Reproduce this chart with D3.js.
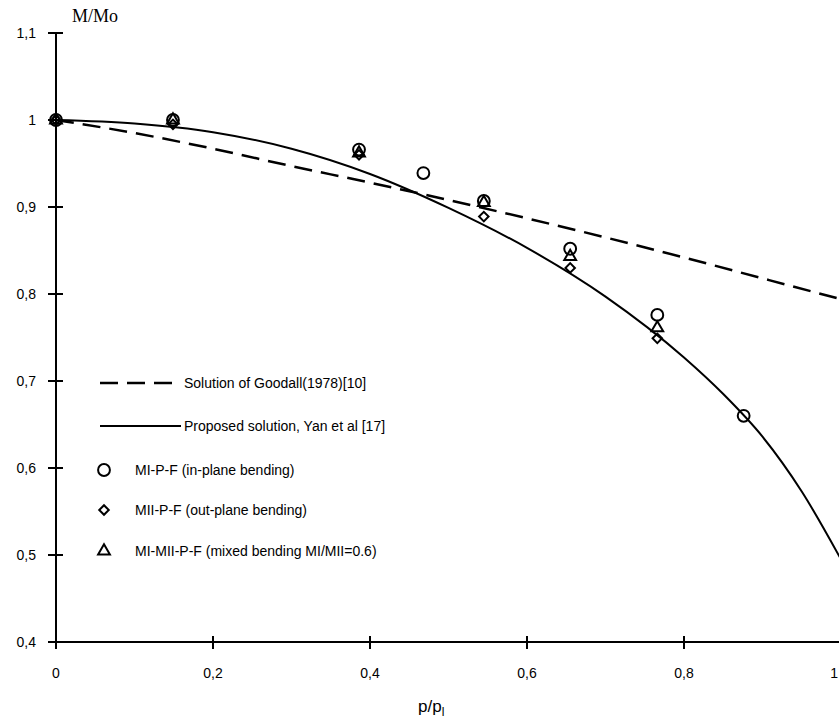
<!DOCTYPE html>
<html>
<head>
<meta charset="utf-8">
<script src="https://cdn.jsdelivr.net/npm/d3@7"></script>
<style>
  body { margin: 0; background: #fff; }
  svg { display: block; }
</style>
</head>
<body>
<div id="graph"></div>
<script>
var w = 839;
var h = 727;

// data
var xTicks = [0, 0.2, 0.4, 0.6, 0.8, 1];
var yTicks = [0.4, 0.5, 0.6, 0.7, 0.8, 0.9, 1, 1.1];

var goodallP = [0, 0.1, 0.2, 0.3, 0.4, 0.5, 0.6, 0.7, 0.8, 0.9, 1.0];
var goodallM = [1.0, 0.985, 0.967, 0.947, 0.928, 0.908, 0.887, 0.865, 0.842, 0.818, 0.794];

var yanP = [0, 0.1, 0.2, 0.3, 0.4, 0.5, 0.6, 0.7, 0.8, 0.85, 0.9, 0.95, 1.0];
var yanM = [1.0, 0.996, 0.986, 0.967, 0.938, 0.899, 0.853, 0.797, 0.727, 0.685, 0.636, 0.573, 0.495];

var inPlaneP = [0, 0.149, 0.386, 0.468, 0.545, 0.655, 0.766, 0.876];
var inPlaneM = [1.0, 1.0, 0.966, 0.939, 0.907, 0.852, 0.776, 0.66];

var outPlaneP = [0, 0.149, 0.386, 0.545, 0.655, 0.766];
var outPlaneM = [1.0, 0.995, 0.96, 0.889, 0.83, 0.749];

var mixedP = [0, 0.149, 0.386, 0.545, 0.655, 0.766];
var mixedM = [1.0, 1.0, 0.962, 0.905, 0.843, 0.761];

var x = d3.scaleLinear().domain([0, 1]).range([56, 841]);
var y = d3.scaleLinear().domain([0.4, 1.1]).range([642, 33]);

var svg = d3.select("#graph")
            .append("svg")
            .attr("width", w)
            .attr("height", h);

var fmt = function(d) { return String(d).replace(".", ","); };

// axes
var yAxis = svg.append("g").attr("transform", "translate(56,0)");
yAxis.append("line")
  .attr("y1", y(1.1)).attr("y2", y(0.4))
  .attr("stroke", "#000").attr("stroke-width", 2);
yAxis.selectAll("line.tick")
  .data(yTicks)
  .enter()
  .append("line")
    .attr("class", "tick")
    .attr("x1", -8).attr("x2", 7)
    .attr("y1", function(d) { return y(d); })
    .attr("y2", function(d) { return y(d); })
    .attr("stroke", "#000").attr("stroke-width", 2);
yAxis.selectAll("text")
  .data(yTicks)
  .enter()
  .append("text")
    .attr("x", -20)
    .attr("y", function(d) { return y(d) + 5; })
    .attr("text-anchor", "end")
    .attr("font-family", "Liberation Sans, Arial, sans-serif")
    .attr("font-size", "14px")
    .text(fmt);

var xAxis = svg.append("g").attr("transform", "translate(0,642)");
xAxis.append("line")
  .attr("x1", x(0)).attr("x2", w)
  .attr("stroke", "#000").attr("stroke-width", 2);
xAxis.selectAll("line.tick")
  .data(xTicks)
  .enter()
  .append("line")
    .attr("class", "tick")
    .attr("x1", function(d) { return x(d); })
    .attr("x2", function(d) { return x(d); })
    .attr("y1", -6).attr("y2", 7)
    .attr("stroke", "#000").attr("stroke-width", 2);
xAxis.selectAll("text")
  .data(xTicks)
  .enter()
  .append("text")
    .attr("x", function(d) { return Math.min(x(d), w - 1); })
    .attr("y", 36)
    .attr("text-anchor", function(d) { return x(d) > w - 5 ? "end" : "middle"; })
    .attr("font-family", "Liberation Sans, Arial, sans-serif")
    .attr("font-size", "14px")
    .text(fmt);

// axis titles
svg.append("text")
  .attr("x", 72).attr("y", 22)
  .attr("font-family", "Liberation Serif, Times New Roman, serif")
  .attr("font-size", "18px")
  .text("M/Mo");

var xt = svg.append("text")
  .attr("x", 418).attr("y", 712)
  .attr("font-family", "Liberation Sans, Arial, sans-serif")
  .attr("font-size", "17px");
xt.append("tspan").text("p/p");
xt.append("tspan").attr("font-size", "12px").attr("dy", 4).text("l");

// curves
var line = d3.line()
  .x(function(d) { return x(d[0]); })
  .y(function(d) { return y(d[1]); })
  .curve(d3.curveMonotoneX);

svg.append("path")
  .datum(d3.zip(goodallP, goodallM))
  .attr("d", line)
  .attr("fill", "none")
  .attr("stroke", "#000")
  .attr("stroke-width", 2.5)
  .attr("stroke-dasharray", "18,9");

svg.append("path")
  .datum(d3.zip(yanP, yanM))
  .attr("d", line)
  .attr("fill", "none")
  .attr("stroke", "#000")
  .attr("stroke-width", 2);

// markers (diamond = square turned 45 degrees)
var circle = { d: d3.symbol().type(d3.symbolCircle).size(110)(), rot: 0 };
var diamond = { d: d3.symbol().type(d3.symbolSquare).size(45)(), rot: 45 };
var triangle = { d: d3.symbol().type(d3.symbolTriangle).size(60)(), rot: 0 };

function drawPoints(ps, ms, sym) {
  svg.append("g").selectAll("path")
    .data(d3.zip(ps, ms))
    .enter()
    .append("path")
      .attr("d", sym.d)
      .attr("transform", function(d) {
        return "translate(" + x(d[0]) + "," + y(d[1]) + ") rotate(" + sym.rot + ")";
      })
      .attr("fill", "none")
      .attr("stroke", "#000")
      .attr("stroke-width", 2);
}
drawPoints(inPlaneP, inPlaneM, circle);
drawPoints(outPlaneP, outPlaneM, diamond);
drawPoints(mixedP, mixedM, triangle);

// legend
var lg = svg.append("g")
  .attr("font-family", "Liberation Sans, Arial, sans-serif")
  .attr("font-size", "14px");

lg.append("line")
  .attr("x1", 100).attr("x2", 178).attr("y1", 383).attr("y2", 383)
  .attr("stroke", "#000").attr("stroke-width", 2.5)
  .attr("stroke-dasharray", "18,9");
lg.append("text").attr("x", 184).attr("y", 388).text("Solution of Goodall(1978)[10]");

lg.append("line")
  .attr("x1", 100).attr("x2", 181).attr("y1", 426).attr("y2", 426)
  .attr("stroke", "#000").attr("stroke-width", 2);
lg.append("text").attr("x", 184).attr("y", 431).text("Proposed solution, Yan et al [17]");

var legendItems = [
  { sym: circle, label: "MI-P-F (in-plane bending)", y: 470 },
  { sym: diamond, label: "MII-P-F (out-plane bending)", y: 510 },
  { sym: triangle, label: "MI-MII-P-F (mixed bending MI/MII=0.6)", y: 551 }
];
legendItems.forEach(function(it) {
  lg.append("path")
    .attr("d", it.sym.d)
    .attr("transform", "translate(104," + it.y + ") rotate(" + it.sym.rot + ")")
    .attr("fill", "none").attr("stroke", "#000").attr("stroke-width", 2);
  lg.append("text").attr("x", 135).attr("y", it.y + 5).text(it.label);
});
</script>
</body>
</html>
